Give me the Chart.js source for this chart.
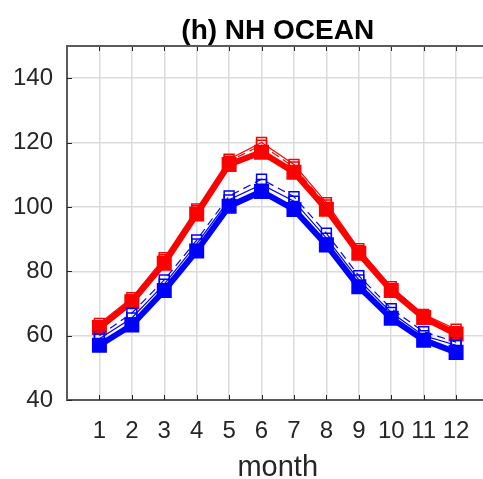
<!DOCTYPE html>
<html lang="en">
<head>
  <meta charset="UTF-8">
  <title>(h) NH OCEAN</title>
  <script src="https://cdn.jsdelivr.net/npm/chart.js"></script>
  <style>
    html, body { margin: 0; padding: 0; background: #fff; overflow: hidden; }
    #wrap { width: 500px; height: 479px; }
  </style>
</head>
<body>
  <div id="wrap"><canvas id="chart" width="500" height="479"></canvas></div>

  <script>
    const months = [1, 2, 3, 4, 5, 6, 7, 8, 9, 10, 11, 12];
    const redThick  = [62.5, 70.5, 82.5, 97.8, 113.2, 117.0, 110.8, 99.3, 85.6, 74.0, 65.6, 60.5];
    const redThin   = [63.8, 71.8, 84.2, 99.4, 114.8, 120.0, 113.2, 101.3, 87.0, 75.2, 66.6, 62.0];
    const redDash   = [63.0, 71.2, 83.6, 98.8, 114.2, 119.2, 112.4, 100.6, 86.4, 74.6, 66.2, 61.2];
    const blueThick = [57.0, 63.3, 74.0, 86.3, 100.2, 104.8, 99.2, 88.2, 75.2, 65.4, 58.6, 54.8];
    const blueThin  = [59.0, 65.5, 76.0, 88.5, 102.2, 107.0, 101.8, 90.3, 77.3, 67.2, 60.0, 57.0];
    const blueDash  = [60.0, 67.0, 77.3, 89.7, 103.4, 108.6, 103.2, 91.8, 78.6, 68.4, 61.2, 58.0];
    const yTicks = [40, 60, 80, 100, 120, 140];

    const RED = '#ff0000';
    const BLUE = '#0000ff';
    const AXIS = '#262626';
    const GRID = '#dcdcdc';
    const FONT = 'Liberation Sans, Arial, sans-serif';

    const pts = vals => vals.map((v, i) => ({ x: months[i], y: v }));

    function thin(vals, color, dash) {
      return {
        data: pts(vals),
        borderColor: color,
        borderWidth: 1.2,
        borderDash: dash ? [8, 5] : [],
        pointStyle: 'rect',
        pointRadius: 7,
        pointBorderWidth: 1.5,
        pointBorderColor: color,
        pointBackgroundColor: 'rgba(0,0,0,0)',
        tension: 0
      };
    }

    function thick(vals, color) {
      return {
        data: pts(vals),
        borderColor: color,
        borderWidth: 6,
        pointStyle: 'rect',
        pointRadius: 8.5,
        pointBorderWidth: 3,
        pointBorderColor: color,
        pointBackgroundColor: color,
        tension: 0
      };
    }

    // inward tick marks on left, bottom and top, plus the top frame line
    const boxTicks = {
      id: 'boxTicks',
      afterDatasetsDraw(chart) {
        const { ctx, chartArea: a, scales: { x, y } } = chart;
        ctx.save();
        ctx.strokeStyle = AXIS;
        ctx.lineWidth = 1;
        ctx.beginPath();
        months.forEach(m => {
          const px = Math.round(x.getPixelForValue(m)) + 0.5;
          ctx.moveTo(px, a.bottom); ctx.lineTo(px, a.bottom - 5);
          ctx.moveTo(px, a.top); ctx.lineTo(px, a.top + 5);
        });
        yTicks.forEach(v => {
          const py = Math.round(y.getPixelForValue(v)) + 0.5;
          ctx.moveTo(a.left, py); ctx.lineTo(a.left + 5, py);
        });
        ctx.stroke();
        ctx.strokeStyle = '#5a5a5a';
        ctx.lineWidth = 2;
        ctx.beginPath();
        ctx.moveTo(a.left - 1, a.top);
        ctx.lineTo(a.right, a.top);
        ctx.stroke();
        ctx.restore();
      }
    };

    new Chart(document.getElementById('chart').getContext('2d'), {
      type: 'line',
      data: {
        datasets: [
          thin(redThin, RED, false),
          thin(redDash, RED, true),
          thin(blueThin, BLUE, false),
          thin(blueDash, BLUE, true),
          thick(redThick, RED),
          thick(blueThick, BLUE)
        ]
      },
      options: {
        responsive: false,
        animation: false,
        layout: { padding: { left: 0, right: 11, top: 0, bottom: 0 } },
        plugins: {
          legend: { display: false },
          tooltip: { enabled: false },
          title: {
            display: true,
            fullSize: false,
            text: '(h) NH OCEAN',
            color: '#000',
            font: { family: FONT, size: 28, weight: 'bold', lineHeight: 1 },
            padding: { top: 17, bottom: 1 }
          }
        },
        scales: {
          x: {
            type: 'linear',
            min: 0,
            max: 13,
            afterFit: s => { s.height = 79; },
            afterBuildTicks: s => { s.ticks = months.map(m => ({ value: m })); },
            ticks: {
              autoSkip: false,
              maxRotation: 0,
              padding: 17,
              color: AXIS,
              font: { family: FONT, size: 24 },
              callback: v => String(v)
            },
            grid: { color: GRID, lineWidth: 1.5, drawTicks: false },
            border: { color: '#5a5a5a', width: 2 },
            title: {
              display: true,
              text: 'month',
              color: AXIS,
              font: { family: FONT, size: 29, lineHeight: 1 },
              padding: { top: 0, bottom: -3 }
            }
          },
          y: {
            min: 40,
            max: 150,
            afterFit: s => { s.width = 67; },
            afterBuildTicks: s => { s.ticks = yTicks.map(v => ({ value: v })); },
            ticks: {
              padding: 14,
              color: AXIS,
              font: { family: FONT, size: 24 }
            },
            grid: { color: GRID, lineWidth: 1.5, drawTicks: false },
            border: { color: '#5a5a5a', width: 2 }
          }
        }
      },
      plugins: [boxTicks]
    });
  </script>
</body>
</html>
